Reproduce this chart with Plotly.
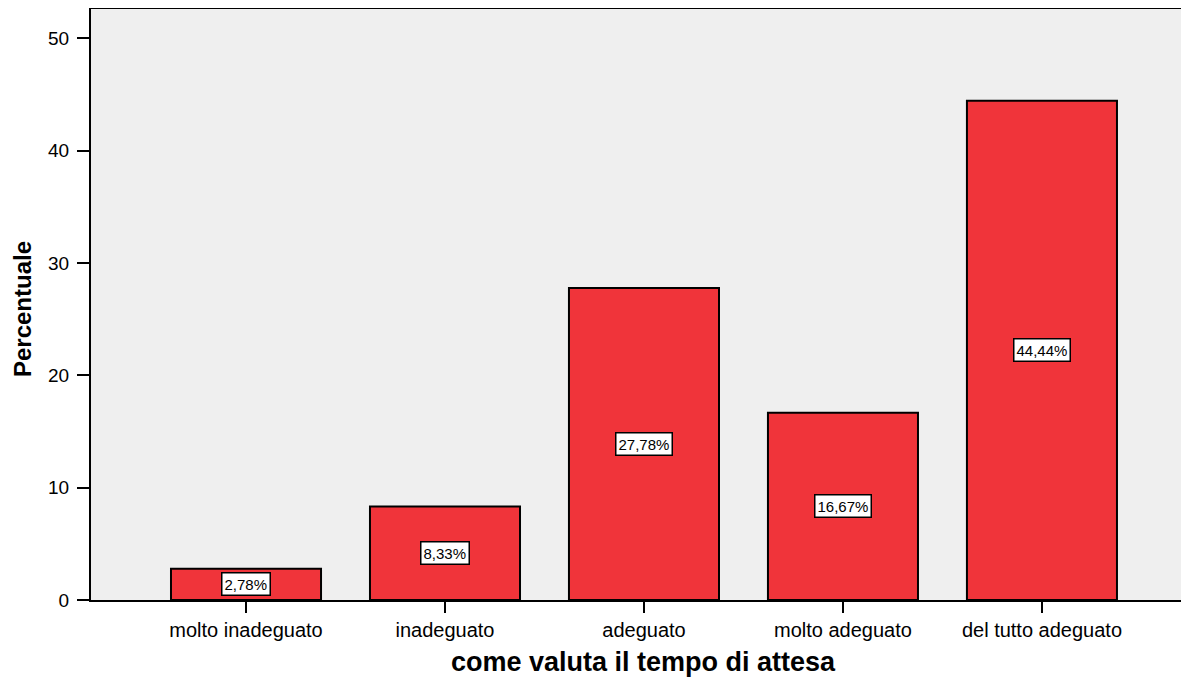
import plotly.graph_objects as go

categories = ["molto inadeguato", "inadeguato", "adeguato", "molto adeguato", "del tutto adeguato"]
percentages = [2.78, 8.33, 27.78, 16.67, 44.44]
labels = ["2,78%", "8,33%", "27,78%", "16,67%", "44,44%"]
y_ticks = [0, 10, 20, 30, 40, 50]

FONT = "Liberation Sans, Arial, sans-serif"

fig = go.Figure()
fig.add_trace(go.Bar(
    x=list(range(len(categories))),
    y=percentages,
    width=0.754,
    marker=dict(color="#F0343A", line=dict(color="black", width=2)),
    hoverinfo="skip",
))

for i, (v, lab) in enumerate(zip(percentages, labels)):
    fig.add_annotation(
        x=i, y=v / 2, text=lab, showarrow=False,
        font=dict(family=FONT, size=15, color="black"),
        bgcolor="white", bordercolor="black", borderwidth=1.5, borderpad=2,
    )

fig.add_annotation(
    xref="paper", yref="paper", x=0.503, y=-0.105, xanchor="center", yanchor="middle",
    text="<b>come valuta il tempo di attesa</b>", showarrow=False,
    font=dict(family=FONT, size=27, color="black"),
)
fig.add_annotation(
    xref="paper", yref="paper", x=-0.063, y=0.492, xanchor="center", yanchor="middle",
    text="<b>Percentuale</b>", showarrow=False, textangle=-90,
    font=dict(family=FONT, size=24, color="black"),
)

fig.update_layout(
    width=1181, height=671,
    margin=dict(l=83, r=0, t=1, b=79),
    paper_bgcolor="white",
    plot_bgcolor="#EFEFEF",
    showlegend=False,
    font=dict(family=FONT, size=20, color="black"),
    xaxis=dict(
        range=[-0.779, 4.739],
        tickmode="array", tickvals=list(range(len(categories))), ticktext=categories,
        ticks="outside", ticklen=11, tickwidth=2, tickcolor="black",
        showline=True, linecolor="black", linewidth=2, mirror=True,
        showgrid=False, zeroline=False,
        tickfont=dict(family=FONT, size=20, color="black"),
    ),
    yaxis=dict(
        range=[0, 52.62],
        tickmode="array", tickvals=y_ticks,
        ticks="outside", ticklen=12, tickwidth=2, tickcolor="black",
        showline=True, linecolor="black", linewidth=2,
        showgrid=False, zeroline=False,
        tickfont=dict(family=FONT, size=19, color="black"),
        ticklabelstandoff=4,
    ),
)

fig.write_html("out.html")
